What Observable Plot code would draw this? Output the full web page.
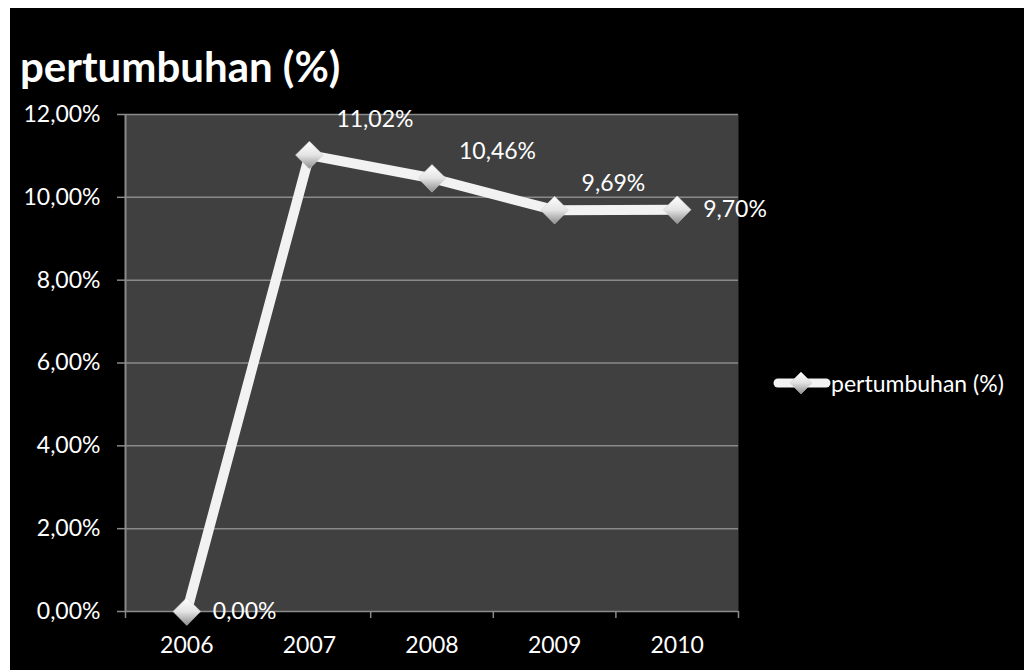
<!DOCTYPE html>
<html>
<head>
<meta charset="utf-8">
<script src="https://cdn.jsdelivr.net/npm/d3@7"></script>
<script src="https://cdn.jsdelivr.net/npm/@observablehq/plot@0.6"></script>
<style>
  html, body { margin: 0; padding: 0; background: #fff; width: 1024px; height: 670px; overflow: hidden; }
  #frame { position: absolute; left: 10px; top: 8px; width: 1014px; height: 662px; background: #000; font-family: Lato, "Open Sans", sans-serif; color: #fff; }
  #title { position: absolute; left: 10px; top: 37px; font-size: 42px; font-weight: bold; line-height: 42px; white-space: nowrap; }
  #chart { position: absolute; left: 0; top: 90px; }
  #legend { position: absolute; left: 763px; top: 361px; display: flex; align-items: center; font-size: 23px; white-space: nowrap; }
  #chart svg text { fill: #fff; }
</style>
</head>
<body>
<div id="frame">
  <div id="title">pertumbuhan (%)</div>
  <div id="chart"></div>
  <div id="legend">
    <svg width="58" height="26" viewBox="0 0 58 26">
      <defs>
        <linearGradient id="lg" x1="0" y1="0" x2="0" y2="1">
          <stop offset="0" stop-color="#ffffff"/>
          <stop offset="0.5" stop-color="#e0e0e0"/>
          <stop offset="1" stop-color="#8c8c8c"/>
        </linearGradient>
      </defs>
      <line x1="5" y1="13" x2="53" y2="13" stroke="#f2f2f2" stroke-width="9" stroke-linecap="round"/>
      <path d="M28,2 L39,13 L28,24 L17,13 Z" fill="url(#lg)" stroke="#d0d0d0" stroke-width="0.5"/>
    </svg>
    <span>pertumbuhan (%)</span>
  </div>
</div>
<script>
const years = [2006, 2007, 2008, 2009, 2010];
const growth = [0.00, 11.02, 10.46, 9.69, 9.70];
const yTicks = [0, 2, 4, 6, 8, 10, 12];
const xBoundaries = [2005.5, 2006.5, 2007.5, 2008.5, 2009.5, 2010.5];
const seriesName = "pertumbuhan (%)";

const data = years.map((y, i) => ({year: y, value: growth[i], i}));
const fmt = v => v.toFixed(2).replace(".", ",") + "%";
const sideLabels = data.filter(d => d.i === 0 || d.i === data.length - 1);
const peakLabel = data.filter(d => d.i === 1);
const topLabels = data.filter(d => d.i === 2 || d.i === 3);

const chart = Plot.plot({
  width: 1014,
  height: 560,
  marginLeft: 115,
  marginRight: 286,
  marginTop: 16,
  marginBottom: 47,
  style: {background: "transparent", fontFamily: "Lato, 'Open Sans', sans-serif", fontSize: "23px", color: "#fff", overflow: "visible"},
  x: {type: "linear", domain: [2005.5, 2010.5], label: null},
  y: {domain: [0, 12], label: null},
  marks: [
    Plot.frame({fill: "#404040", stroke: null}),
    Plot.ruleY(yTicks, {stroke: "#8a8a8a", strokeWidth: 1.5}),
    Plot.ruleX([xBoundaries[0]], {stroke: "#8a8a8a", strokeWidth: 2}),
    Plot.axisY(yTicks, {anchor: "left", label: null, tickSize: 8, tickPadding: 17, stroke: "#8a8a8a", strokeWidth: 1.5, tickFormat: fmt, fill: "#fff", fontSize: 23}),
    Plot.axisX(xBoundaries, {anchor: "bottom", label: null, tickSize: 7, stroke: "#8a8a8a", strokeWidth: 1.5, tickFormat: () => ""}),
    Plot.axisX(years, {anchor: "bottom", label: null, tickSize: 0, tickPadding: 25, tickFormat: d => String(d), fill: "#fff", fontSize: 23}),
    Plot.line(data, {x: "year", y: "value", stroke: "#f2f2f2", strokeWidth: 10, strokeLinejoin: "round", strokeLinecap: "round"}),
    Plot.dot(data, {x: "year", y: "value", symbol: "diamond2", r: 12.5, fill: "url(#dg)", stroke: "#cfcfcf", strokeWidth: 0.5}),
    Plot.text(sideLabels, {x: "year", y: "value", text: d => fmt(d.value), textAnchor: "start", dx: 26, fill: "#fff", fontSize: 23}),
    Plot.text(peakLabel, {x: "year", y: "value", text: d => fmt(d.value), textAnchor: "start", dx: 27, dy: -35, fill: "#fff", fontSize: 23}),
    Plot.text(topLabels, {x: "year", y: "value", text: d => fmt(d.value), textAnchor: "start", dx: 27, dy: -27, fill: "#fff", fontSize: 23})
  ]
});

const svgns = "http://www.w3.org/2000/svg";
const defs = document.createElementNS(svgns, "defs");
defs.innerHTML = '<linearGradient id="dg" x1="0" y1="0" x2="0" y2="1"><stop offset="0" stop-color="#ffffff"/><stop offset="0.5" stop-color="#e4e4e4"/><stop offset="1" stop-color="#8c8c8c"/></linearGradient>';
chart.insertBefore(defs, chart.firstChild);
document.getElementById("chart").appendChild(chart);
</script>
</body>
</html>
